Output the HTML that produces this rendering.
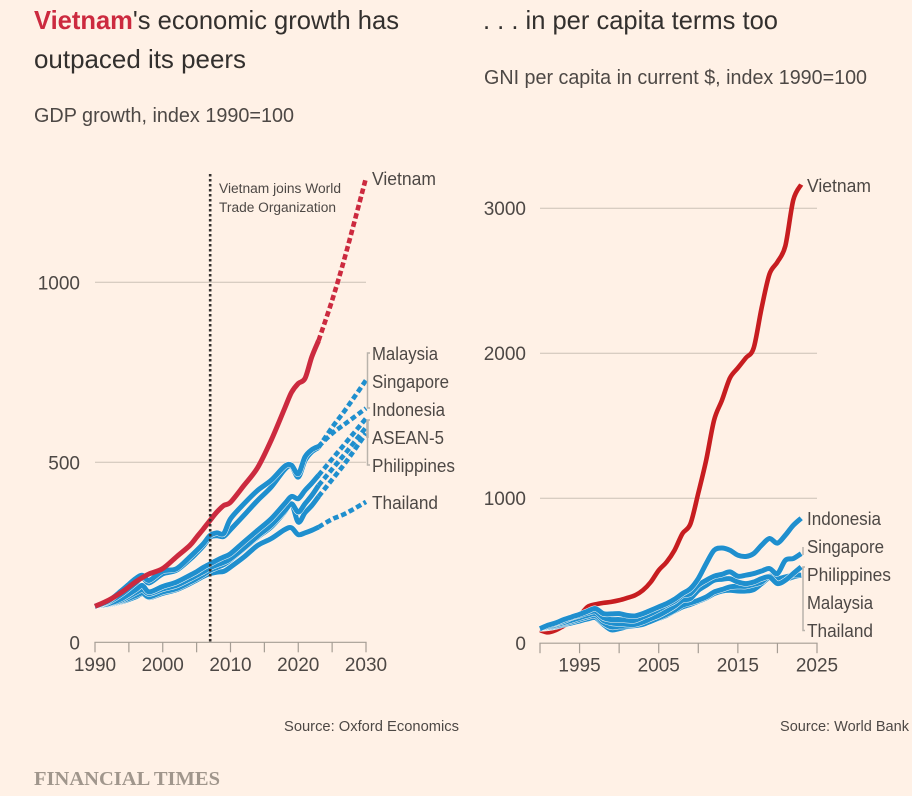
<!DOCTYPE html>
<html lang="en">
<head>
<meta charset="utf-8">
<title>Vietnam's economic growth has outpaced its peers</title>
<style>
html,body{margin:0;padding:0;background:#fff1e6;}
svg{display:block;}
text{font-family:"Liberation Sans",sans-serif;fill:#4d4845;}
</style>
</head>
<body>
<svg id="chart" xmlns="http://www.w3.org/2000/svg" width="912" height="796" viewBox="0 0 912 796">
<rect x="0" y="0" width="912" height="796" fill="#fff1e6"/>
<text x="34" y="29" font-size="26" textLength="365" lengthAdjust="spacingAndGlyphs" style="fill:#33302e"><tspan style="fill:#cc2a3f;font-weight:bold">Vietnam</tspan>'s economic growth has</text>
<text x="34" y="68" font-size="26" textLength="212" lengthAdjust="spacingAndGlyphs" style="fill:#33302e">outpaced its peers</text>
<text x="34" y="122" font-size="20.5" textLength="260" lengthAdjust="spacingAndGlyphs">GDP growth, index 1990=100</text>
<text x="483" y="29" font-size="26" textLength="295" lengthAdjust="spacingAndGlyphs" style="fill:#33302e">. . . in per capita terms too</text>
<text x="484" y="84" font-size="20.5" textLength="383" lengthAdjust="spacingAndGlyphs">GNI per capita in current $, index 1990=100</text>

<g id="left-plot"></g>
<g id="right-plot"></g>

<text x="219" y="193" font-size="13.5" textLength="122" lengthAdjust="spacingAndGlyphs">Vietnam joins World</text>
<text x="219" y="212" font-size="13.5" textLength="117" lengthAdjust="spacingAndGlyphs">Trade Organization</text>

<g font-size="18">
<text x="372" y="185" textLength="64" lengthAdjust="spacingAndGlyphs">Vietnam</text>
<text x="372" y="360" textLength="66" lengthAdjust="spacingAndGlyphs">Malaysia</text>
<text x="372" y="388" textLength="77" lengthAdjust="spacingAndGlyphs">Singapore</text>
<text x="372" y="416" textLength="73" lengthAdjust="spacingAndGlyphs">Indonesia</text>
<text x="372" y="444" textLength="72" lengthAdjust="spacingAndGlyphs">ASEAN-5</text>
<text x="372" y="472" textLength="83" lengthAdjust="spacingAndGlyphs">Philippines</text>
<text x="372" y="509" textLength="66" lengthAdjust="spacingAndGlyphs">Thailand</text>
</g>
<g font-size="18">
<text x="807" y="192" textLength="64" lengthAdjust="spacingAndGlyphs">Vietnam</text>
<text x="807" y="525" textLength="74" lengthAdjust="spacingAndGlyphs">Indonesia</text>
<text x="807" y="553" textLength="77" lengthAdjust="spacingAndGlyphs">Singapore</text>
<text x="807" y="581" textLength="84" lengthAdjust="spacingAndGlyphs">Philippines</text>
<text x="807" y="609" textLength="66" lengthAdjust="spacingAndGlyphs">Malaysia</text>
<text x="807" y="637" textLength="66" lengthAdjust="spacingAndGlyphs">Thailand</text>
</g>

<g fill="none" stroke="#b9b3ab" stroke-width="1.5">
<path d="M370 353H367.5V408H370"/>
<path d="M370 420H367.5V465H370"/>
<path d="M367.5 420V438" stroke-width="2.5"/>
</g>
<g fill="none" stroke="#b9b3ab" stroke-width="1.5">
<path d="M803 547V555"/>
<path d="M805 567H803V630.5H805"/>
</g>

<text x="284" y="731" font-size="15" textLength="175" lengthAdjust="spacingAndGlyphs">Source: Oxford Economics</text>
<text x="780" y="731" font-size="15" textLength="129" lengthAdjust="spacingAndGlyphs">Source: World Bank</text>
<text x="34" y="785" font-size="20" font-weight="bold" textLength="186" lengthAdjust="spacingAndGlyphs" style="font-family:'Liberation Serif',serif;fill:#a0968c">FINANCIAL TIMES</text>
</svg>

<script>
// ---- Left chart data: GDP index, 1990=100 ----
const leftYears = [1990,1992,1994,1996,1997,1998,2000,2002,2004,2005,2006,2007,2008,2009,2010,2012,2014,2016,2018,2019,2020,2021,2022,2023];
const leftVietnam = [100,117,140,168,180,190,205,237,269,292,315,339,362,380,389,436,485,561,650,694,719,733,793,838];
const leftMalaysia = [100,115,145,177,186,172,198,204,237,255,274,297,304,302,343,385,422,450,489,492,468,515,535,544];
const leftSingapore = [100,112,135,165,180,165,190,200,230,248,268,292,296,294,313,353,394,431,480,489,459,505,529,541];
const leftIndonesia = [100,107,122,146,158,140,155,167,186,196,208,218,228,237,246,279,311,343,385,405,399,422,442,464];
const leftAsean5 = [100,106,118,138,146,135,148,158,176,186,196,207,215,222,232,262,295,325,365,385,362,385,408,436];
const leftPhilippines = [100,105,115,130,137,126,140,149,167,177,188,200,208,216,229,260,292,320,362,385,334,360,380,405];
const leftThailand = [100,104,113,126,135,124,136,146,163,173,183,191,195,197,209,237,269,288,313,318,299,304,311,320];

const projYears = [2023,2025,2027,2030];
const projVietnam = [838,950,1078,1290];
const projMalaysia = [544,580,608,650];
const projSingapore = [541,597,647,728];
const projIndonesia = [464,509,554,622];
const projAsean5 = [436,481,526,597];
const projPhilippines = [405,452,500,580];
const projThailand = [320,342,358,390];

const leftYTicks = [500,1000];
const leftYTickLabels = ["0","500","1000"];
const leftXTicks = [1990,1995,2000,2005,2010,2015,2020,2025,2030];
const leftXLabels = [1990,2000,2010,2020,2030];
const wtoYear = 2007;

// ---- Right chart data: GNI per capita index, 1990=100 ----
const rightYears = [1990,1991,1992,1993,1994,1995,1996,1997,1998,1999,2000,2001,2002,2003,2004,2005,2006,2007,2008,2009,2010,2011,2012,2013,2014,2015,2016,2017,2018,2019,2020,2021,2022,2023];
const rightVietnam = [90,75,90,120,150,190,250,268,278,285,296,312,330,365,422,503,560,641,756,822,1035,1263,1539,1677,1829,1898,1967,2036,2312,2546,2629,2740,3056,3163];
const rightIndonesia = [100,124,140,163,181,199,220,239,204,202,204,192,188,204,227,250,273,303,342,376,446,549,641,657,641,607,598,618,676,722,690,745,813,862];
const rightSingapore = [100,117,135,153,176,192,209,220,176,163,163,158,158,181,204,232,262,289,330,342,400,434,462,475,492,462,469,480,498,515,480,572,584,618];
const rightPhilippines = [100,112,126,142,158,176,192,204,158,140,135,130,130,146,170,192,222,255,296,308,365,400,434,441,445,422,411,422,445,457,411,434,480,526];
const rightMalaysia = [100,107,119,135,149,165,181,190,140,112,117,117,121,130,151,174,199,227,262,278,296,319,353,370,388,393,393,406,422,462,445,457,469,469];
const rightThailand = [100,105,114,128,140,153,167,176,130,92,100,114,123,135,151,170,192,222,250,268,289,312,342,360,365,360,360,370,411,452,434,439,457,469];

const rightYTicks = [1000,2000,3000];
const rightYTickLabels = ["0","1000","2000","3000"];
const rightXTicks = [1990,1995,2000,2005,2010,2015,2020,2025];
const rightXLabels = [1995,2005,2015,2025];

// ---- Axis functions ----
function xLeft(year){ return 95 + (year - 1990) * (366 - 95) / 40; }
function yLeft(v){ return 642.3 - v * 0.36; }
function xRight(year){ return 540 + (year - 1990) * (817 - 540) / 35; }
function yRight(v){ return 643.2 - v * 0.145; }

const NS = 'http://www.w3.org/2000/svg';
const BLUE = '#1f8fce';
const GRID = '#ccc1b5';
const AXIS = '#a59d94';

function make(parent, tag, name, attrs){
  const el = document.createElementNS(NS, tag);
  
  
  for (const k in attrs) el.setAttribute(k, attrs[k]);
  parent.appendChild(el);
  return el;
}

function smoothPath(xs, ys, xf, yf){
  const p = xs.map((x, i) => [xf(x), yf(ys[i])]);
  let d = 'M' + p[0][0].toFixed(2) + ' ' + p[0][1].toFixed(2);
  for (let i = 0; i < p.length - 1; i++){
    const p0 = p[Math.max(i - 1, 0)], p1 = p[i], p2 = p[i + 1], p3 = p[Math.min(i + 2, p.length - 1)];
    const t = 0.16;
    d += ' C' + (p1[0] + (p2[0] - p0[0]) * t).toFixed(2) + ' ' + (p1[1] + (p2[1] - p0[1]) * t).toFixed(2) +
         ' ' + (p2[0] - (p3[0] - p1[0]) * t).toFixed(2) + ' ' + (p2[1] - (p3[1] - p1[1]) * t).toFixed(2) +
         ' ' + p2[0].toFixed(2) + ' ' + p2[1].toFixed(2);
  }
  return d;
}

function line(parent, name, xs, ys, xf, yf, color, dashed, halo, width){
  const d = smoothPath(xs, ys, xf, yf);
  if (halo){
    make(parent, 'path', name + '-halo', {d: d, fill: 'none', stroke: '#fff8f2', 'stroke-width': width + 1, 'stroke-linejoin': 'round'});
  }
  const attrs = {d: d, fill: 'none', stroke: color, 'stroke-width': width, 'stroke-linejoin': 'round'};
  if (dashed) attrs['stroke-dasharray'] = '5.5 3';
  make(parent, 'path', name, attrs);
}

function axes(g, prefix, xf, yf, x0, x1, yTicks, yLabels, xTicks, xLabels, yLabelX){
  yTicks.forEach(function(v){
    make(g, 'line', prefix + '-gridline-' + v, {x1: x0, x2: x1, y1: yf(v), y2: yf(v), stroke: GRID, 'stroke-width': 1});
  });
  make(g, 'line', prefix + '-x-axis', {x1: x0 - 0.6, x2: x1 + 0.6, y1: yf(0), y2: yf(0), stroke: AXIS, 'stroke-width': 1.2});
  xTicks.forEach(function(t){
    make(g, 'line', prefix + '-x-tick-' + t, {x1: xf(t), x2: xf(t), y1: yf(0), y2: yf(0) + 10, stroke: AXIS, 'stroke-width': 1.2});
  });
  xLabels.forEach(function(t){
    const el = make(g, 'text', prefix + '-x-label-' + t, {x: xf(t), y: yf(0) + 28.5, 'font-size': 19, 'text-anchor': 'middle'});
    el.textContent = String(t);
  });
  [0].concat(yTicks).forEach(function(v, i){
    const el = make(g, 'text', prefix + '-y-label-' + v, {x: yLabelX, y: yf(v) + 7, 'font-size': 19, 'text-anchor': 'end'});
    el.textContent = yLabels[i];
  });
}

// ---- Left chart ----
const gL = document.getElementById('left-plot');
axes(gL, 'left', xLeft, yLeft, 95, 366, leftYTicks, leftYTickLabels, leftXTicks, leftXLabels, 80);

line(gL, 'line-thailand-left', leftYears, leftThailand, xLeft, yLeft, BLUE, false, true, 5);
line(gL, 'line-philippines-left', leftYears, leftPhilippines, xLeft, yLeft, BLUE, false, true, 5);
line(gL, 'line-asean5-left', leftYears, leftAsean5, xLeft, yLeft, BLUE, false, true, 5);
line(gL, 'line-indonesia-left', leftYears, leftIndonesia, xLeft, yLeft, BLUE, false, true, 5);
line(gL, 'line-singapore-left', leftYears, leftSingapore, xLeft, yLeft, BLUE, false, true, 5);
line(gL, 'line-malaysia-left', leftYears, leftMalaysia, xLeft, yLeft, BLUE, false, true, 5);
line(gL, 'line-vietnam-left', leftYears, leftVietnam, xLeft, yLeft, '#cc2a3f', false, false, 5);

line(gL, 'forecast-thailand', projYears, projThailand, xLeft, yLeft, BLUE, true, false, 4.6);
line(gL, 'forecast-philippines', projYears, projPhilippines, xLeft, yLeft, BLUE, true, false, 4.6);
line(gL, 'forecast-asean5', projYears, projAsean5, xLeft, yLeft, BLUE, true, false, 4.6);
line(gL, 'forecast-indonesia', projYears, projIndonesia, xLeft, yLeft, BLUE, true, false, 4.6);
line(gL, 'forecast-singapore', projYears, projSingapore, xLeft, yLeft, BLUE, true, false, 4.6);
line(gL, 'forecast-malaysia', projYears, projMalaysia, xLeft, yLeft, BLUE, true, false, 4.6);
line(gL, 'forecast-vietnam', projYears, projVietnam, xLeft, yLeft, '#cc2a3f', true, false, 4.6);

make(gL, 'line', 'wto-marker-line', {x1: xLeft(wtoYear), x2: xLeft(wtoYear), y1: 174, y2: yLeft(0), stroke: '#33302e', 'stroke-width': 2.6, 'stroke-dasharray': '2.5 2.5'});

// ---- Right chart ----
const gR = document.getElementById('right-plot');
axes(gR, 'right', xRight, yRight, 540, 817, rightYTicks, rightYTickLabels, rightXTicks, rightXLabels, 526);

line(gR, 'line-vietnam-right', rightYears, rightVietnam, xRight, yRight, '#c71d20', false, false, 4.6);
line(gR, 'line-thailand-right', rightYears, rightThailand, xRight, yRight, BLUE, false, true, 5);
line(gR, 'line-malaysia-right', rightYears, rightMalaysia, xRight, yRight, BLUE, false, true, 5);
line(gR, 'line-philippines-right', rightYears, rightPhilippines, xRight, yRight, BLUE, false, true, 5);
line(gR, 'line-singapore-right', rightYears, rightSingapore, xRight, yRight, BLUE, false, true, 5);
line(gR, 'line-indonesia-right', rightYears, rightIndonesia, xRight, yRight, BLUE, false, true, 5);
</script>
</body>
</html>
